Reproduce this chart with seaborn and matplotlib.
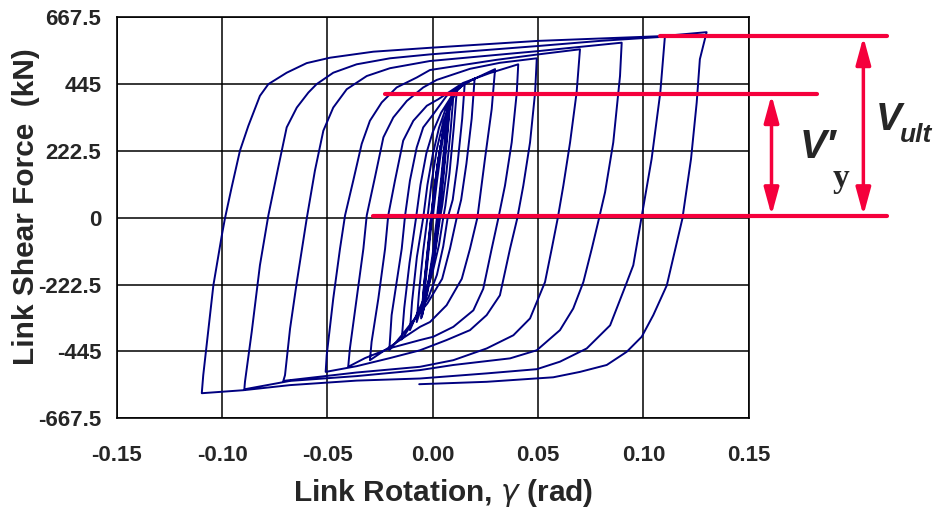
import matplotlib
matplotlib.use("Agg")
import matplotlib.pyplot as plt
import seaborn as sns
import pandas as pd

# ---------------- data (rotation [rad], shear force [kN]) ----------------
# branches in loading order; each is a list of (rotation, force) points
init_up = [(0.0, 0), (0.0020, 120), (0.0045, 250), (0.0070, 360)]
dn_1 = [(0.0070, 360), (0.0058, 260), (0.0040, 130), (0.0020, 0), (0.0000, -120), (-0.0022, -220), (-0.0045, -310)]
up_2 = [(-0.0045, -310), (-0.0032, -200), (-0.0012, -60), (0.0005, 60), (0.0025, 180), (0.0050, 290), (0.0075, 375)]
dn_2 = [(0.0075, 375), (0.0062, 270), (0.0044, 135), (0.0024, 0), (0.0003, -125), (-0.0025, -235), (-0.0050, -325)]
up_3 = [(-0.0050, -325), (-0.0037, -215), (-0.0016, -70), (0.0002, 55), (0.0025, 185), (0.0053, 300), (0.0082, 390)]
dn_3 = [(0.0082, 390), (0.0068, 280), (0.0049, 140), (0.0028, 0), (0.0006, -125), (-0.0025, -240), (-0.0052, -330)]
up_4 = [(-0.0052, -330), (-0.0040, -220), (-0.0018, -75), (0.0000, 50), (0.0025, 190), (0.0055, 305), (0.0085, 395)]
dn_4 = [(0.0085, 395), (0.0071, 285), (0.0052, 145), (0.0031, 0), (0.0008, -125), (-0.0024, -245), (-0.0055, -335)]
up_5 = [(-0.0055, -335), (-0.0042, -230), (-0.0022, -90), (-0.0008, 0), (0.0010, 110), (0.0035, 230), (0.0065, 330), (0.0098, 405)]
dn_5 = [(0.0098, 405), (0.0085, 290), (0.0065, 150), (0.0045, 40), (0.0035, 0), (0.0015, -100), (-0.0015, -200), (-0.0045, -280), (-0.0076, -347)]
up_6 = [(-0.0076, -347), (-0.0065, -250), (-0.0045, -110), (-0.0025, 0), (-0.0005, 120), (0.0020, 230), (0.0050, 320), (0.0085, 385), (0.0114, 420)]
dn_6 = [(0.0114, 420), (0.0100, 300), (0.0080, 150), (0.0060, 40), (0.0050, 0), (0.0030, -90), (0.0000, -180), (-0.0035, -260), (-0.0075, -320), (-0.0108, -374)]
up_7 = [(-0.0108, -374), (-0.0098, -280), (-0.0075, -130), (-0.0045, 0), (-0.0025, 110), (0.0000, 210), (0.0030, 300), (0.0065, 370), (0.0105, 420), (0.0152, 447)]
dn_7 = [(0.0152, 447), (0.0140, 330), (0.0118, 180), (0.0095, 60), (0.0071, 0), (0.0050, -95), (0.0020, -190), (-0.0020, -265), (-0.0070, -320), (-0.0110, -365), (-0.0147, -405)]
up_8 = [(-0.0147, -405), (-0.0135, -300), (-0.0110, -150), (-0.0079, 0), (-0.0058, 110), (-0.0030, 215), (0.0000, 285), (0.0040, 350), (0.0090, 405), (0.0140, 440), (0.0199, 464)]
dn_8 = [(0.0199, 464), (0.0185, 330), (0.0160, 180), (0.0135, 60), (0.0114, 0), (0.0082, -103), (0.0045, -203), (-0.0025, -285), (-0.0090, -340), (-0.0140, -385), (-0.0206, -441)]
up_9 = [(-0.0206, -441), (-0.0195, -324), (-0.0171, -214), (-0.0147, -103), (-0.0131, 8), (-0.0108, 124), (-0.0076, 234), (-0.0045, 301), (0.0003, 345), (0.0066, 406), (0.0177, 456), (0.0296, 495)]
dn_9 = [(0.0296, 495), (0.0280, 362), (0.0248, 196), (0.0212, 0), (0.0177, -103), (0.0138, -203), (0.0066, -291), (-0.0013, -347), (-0.0060, -363), (-0.0155, -407), (-0.0298, -474)]
up_10 = [(-0.0298, -474), (-0.0290, -413), (-0.0258, -269), (-0.0226, -103), (-0.0211, 8), (-0.0179, 124), (-0.0140, 257), (-0.0092, 323), (-0.0028, 373), (0.0027, 395), (0.0144, 449), (0.0272, 482), (0.0406, 511)]
dn_10 = [(0.0406, 511), (0.0399, 417), (0.0375, 251), (0.0343, 107), (0.0311, -3), (0.0280, -103), (0.0240, -236), (0.0193, -308), (0.0098, -363), (0.0003, -396), (-0.0060, -407), (-0.0203, -434), (-0.0321, -467), (-0.0401, -496)]
up_11 = [(-0.0401, -496), (-0.0393, -435), (-0.0361, -269), (-0.0329, -103), (-0.0313, 8), (-0.0274, 135), (-0.0234, 268), (-0.0187, 334), (-0.0123, 389), (-0.0045, 434), (0.0019, 459), (0.0177, 496), (0.0319, 516), (0.0494, 531)]
dn_11 = [(0.0494, 531), (0.0486, 417), (0.0462, 251), (0.0430, 107), (0.0401, -3), (0.0367, -103), (0.0319, -258), (0.0256, -324), (0.0177, -374), (0.0066, -407), (-0.0060, -441), (-0.0203, -467), (-0.0361, -494), (-0.0508, -513)]
up_12 = [(-0.0508, -513), (-0.0503, -457), (-0.0472, -269), (-0.0440, -103), (-0.0416, 8), (-0.0377, 124), (-0.0337, 246), (-0.0298, 323), (-0.0242, 384), (-0.0171, 434), (-0.0076, 467), (-0.0013, 492), (0.0304, 526), (0.0501, 544), (0.0699, 561)]
dn_12 = [(0.0699, 561), (0.0683, 417), (0.0652, 251), (0.0620, 107), (0.0593, -3), (0.0565, -103), (0.0533, -214), (0.0462, -335), (0.0383, -391), (0.0256, -435), (0.0098, -474), (-0.0060, -496), (-0.0361, -515), (-0.0709, -543)]
up_13 = [(-0.0709, -543), (-0.0701, -524), (-0.0677, -369), (-0.0645, -214), (-0.0606, -37), (-0.0598, -3), (-0.0559, 157), (-0.0519, 290), (-0.0472, 367), (-0.0408, 428), (-0.0313, 472), (-0.0203, 498), (-0.0013, 522), (0.0501, 555), (0.0897, 583)]
dn_13 = [(0.0897, 583), (0.0889, 472), (0.0857, 251), (0.0818, 85), (0.0789, -3), (0.0755, -103), (0.0715, -214), (0.0667, -302), (0.0604, -374), (0.0494, -441), (0.0367, -468), (0.0098, -490), (-0.0060, -507), (-0.0361, -527), (-0.0677, -543), (-0.0894, -571)]
up_14 = [(-0.0894, -571), (-0.0891, -546), (-0.0859, -380), (-0.0820, -158), (-0.0780, 8), (-0.0733, 168), (-0.0693, 301), (-0.0645, 367), (-0.0590, 417), (-0.0551, 445), (-0.0472, 483), (-0.0361, 511), (-0.0203, 531), (-0.0013, 544), (0.0501, 572), (0.0795, 589), (0.1102, 603)]
dn_14 = [(0.1102, 603), (0.1080, 416), (0.1039, 196), (0.0992, 5), (0.0952, -158), (0.0913, -230), (0.0842, -358), (0.0731, -435), (0.0604, -479), (0.0494, -504), (0.0256, -518), (-0.0060, -535), (-0.0361, -542), (-0.0677, -557), (-0.0899, -574), (-0.1096, -584)]
up_15 = [(-0.1096, -584), (-0.1089, -524), (-0.1041, -225), (-0.1001, -59), (-0.0986, -2), (-0.0954, 102), (-0.0915, 223), (-0.0875, 306), (-0.0820, 406), (-0.0780, 445), (-0.0693, 483), (-0.0598, 515), (-0.0487, 533), (-0.0282, 553), (-0.0013, 566), (0.0501, 589), (0.1093, 605), (0.1300, 618)]
dn_15 = [(0.1300, 618), (0.1268, 528), (0.1253, 384), (0.1226, 196), (0.1185, -3), (0.1111, -225), (0.1047, -324), (0.0992, -396), (0.0921, -446), (0.0826, -490), (0.0699, -513), (0.0572, -531), (0.0256, -546), (-0.0064, -554)]

branches = [init_up, dn_1, up_2, dn_2, up_3, dn_3, up_4, dn_4, up_5, dn_5, up_6, dn_6,
            up_7, dn_7, up_8, dn_8, up_9, dn_9, up_10, dn_10, up_11, dn_11, up_12, dn_12,
            up_13, dn_13, up_14, dn_14, up_15, dn_15]

# reference levels (kN)
v_ult = 605
v_y = 412
v_zero = 5

x_ticks = [-0.15, -0.10, -0.05, 0.00, 0.05, 0.10, 0.15]
x_tick_labels = ["-0.15", "-0.10", "-0.05", "0.00", "0.05", "0.10", "0.15"]
y_ticks = [-667.5, -445, -222.5, 0, 222.5, 445, 667.5]
y_tick_labels = ["-667.5", "-445", "-222.5", "0", "222.5", "445", "667.5"]

# ---------------- build frame ----------------
rot, frc = [], []
for b in branches:
    for (r, f) in b:
        rot.append(r)
        frc.append(f)
df = pd.DataFrame({"rotation": rot, "force": frc})

# ---------------- plot ----------------
sns.set_style("white")
plt.rcParams["font.family"] = ["Liberation Sans", "DejaVu Sans"]
plt.rcParams["mathtext.fontset"] = "dejavusans"

W, H = 934, 514
fig = plt.figure(figsize=(W / 100, H / 100), dpi=100)
ax = fig.add_axes([116.65 / W, 1 - 418.3 / H, (748.75 - 116.65) / W, (418.3 - 17.3) / H])

sns.lineplot(data=df, x="rotation", y="force", sort=False, estimator=None,
             color="#000080", lw=1.4, ax=ax, zorder=3)

ax.set_xlim(-0.15, 0.15)
ax.set_ylim(-667.5, 667.5)
ax.set_xticks(x_ticks)
ax.set_xticklabels(x_tick_labels)
ax.set_yticks(y_ticks)
ax.set_yticklabels(y_tick_labels)
ax.set_xlabel("")
ax.set_ylabel("")
ax.grid(True, color="black", lw=1.1)
ax.set_axisbelow(True)
for s in ax.spines.values():
    s.set_color("black")
    s.set_linewidth(1.2)
ax.tick_params(axis="x", length=5, width=1.1, color="black", pad=14,
               labelsize=16)
ax.tick_params(axis="y", length=3, width=1.1, color="black", pad=8,
               labelsize=16)
for lab in ax.get_xticklabels() + ax.get_yticklabels():
    lab.set_fontweight("bold")

red = "#F5003C"
# reference lines (extend beyond the axes)
ax.plot([0.108, 0.2154], [v_ult, v_ult], color=red, lw=3.0, clip_on=False, zorder=4)
ax.plot([-0.0226, 0.1822], [v_y, v_y], color=red, lw=3.0, clip_on=False, zorder=4)
ax.plot([-0.0283, 0.2154], [v_zero, v_zero], color=red, lw=3.0, clip_on=False, zorder=4)

arrow_style = "<|-|>,head_length=1.1,head_width=0.3"
ax.annotate("", xy=(0.1608, v_y - 3), xytext=(0.1608, v_zero + 3),
            arrowprops=dict(arrowstyle=arrow_style, color=red, lw=2.5,
                            mutation_scale=15, shrinkA=0, shrinkB=0),
            annotation_clip=False)
ax.annotate("", xy=(0.2044, v_ult - 3), xytext=(0.2044, v_zero + 3),
            arrowprops=dict(arrowstyle=arrow_style, color=red, lw=2.5,
                            mutation_scale=15, shrinkA=0, shrinkB=0),
            annotation_clip=False)

# labels
sans_it = ["Liberation Sans", "DejaVu Sans"]
fig.text(800 / W, 1 - 158 / H, "V\u2032", fontsize=29, fontweight="bold", fontstyle="italic",
         family=sans_it, ha="left", va="baseline")
fig.text(833 / W, 1 - 187 / H, "y", fontsize=24, fontweight="bold",
         family=["Liberation Serif", "DejaVu Serif"], ha="left", va="baseline")
fig.text(876 / W, 1 - 130 / H, "V", fontsize=28, fontweight="bold", fontstyle="italic",
         family=sans_it, ha="left", va="baseline")
fig.text(900 / W, 1 - 142 / H, "ult", fontsize=19, fontweight="bold", fontstyle="italic",
         family=sans_it, ha="left", va="baseline")

fig.text(443 / W, 1 - 493 / H, "Link Rotation, $\\gamma$ (rad)", fontsize=21.5, fontweight="bold",
         ha="center", va="center")
fig.text(26 / W, 1 - 207 / H, "Link Shear Force  (kN)", fontsize=21.5, fontweight="bold",
         rotation=90, ha="center", va="center")

fig.savefig("out.png", dpi=100)
